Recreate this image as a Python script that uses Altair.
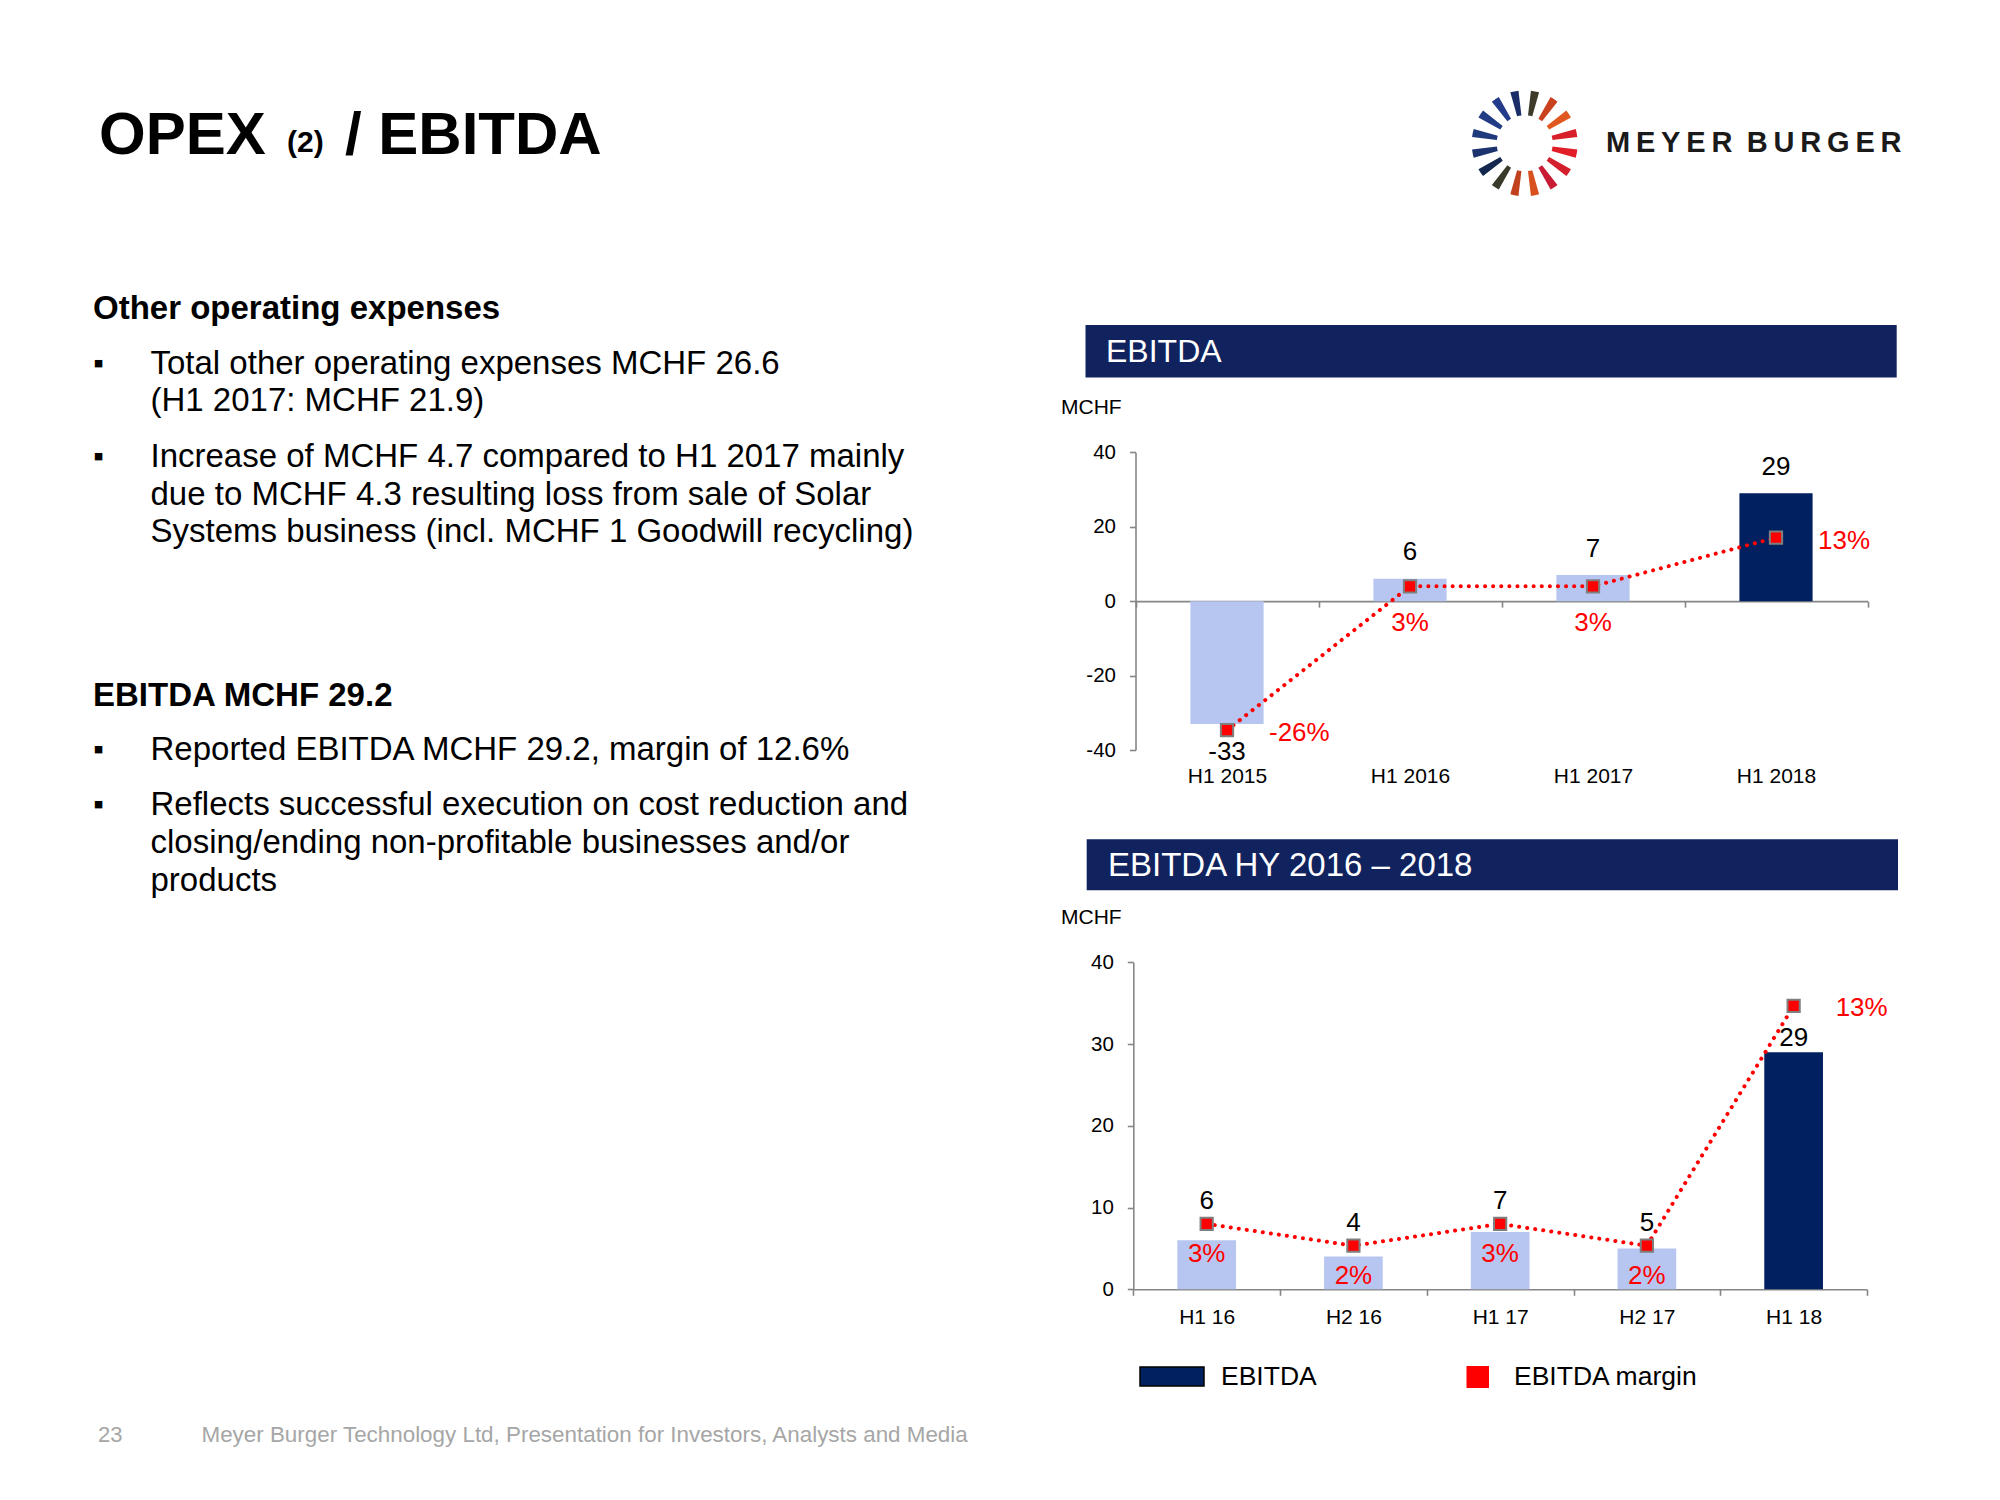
import altair as alt
import pandas as pd

FONT = "Liberation Sans"
W, H = 2000, 1500
HEADER_BLUE = "#10235f"
DARK = "#002060"
LIGHT = "#b7c6f0"
RED = "#ff0000"
AXIS_GREY = "#868686"
FOOT_GREY = "#a6a6a6"

# ---------------- data ----------------
top_periods = ["H1 2015", "H1 2016", "H1 2017", "H1 2018"]
top_ebitda = [-33, 6, 7, 29]
top_margin = [-0.26, 0.03, 0.03, 0.128]
top_kind = ["past", "past", "past", "current"]
top_ticks = [-40, -20, 0, 20, 40]

hy_periods = ["H1 16", "H2 16", "H1 17", "H2 17", "H1 18"]
hy_ebitda = [6, 4, 7, 5, 29]
hy_margin = [0.03, 0.02, 0.03, 0.02, 0.13]
hy_kind = ["past", "past", "past", "past", "current"]
hy_ticks = [0, 10, 20, 30, 40]

title_main = "OPEX"
title_note = "(2)"
title_rest = "/ EBITDA"
logo_text = "M\u2009E\u2009Y\u2009E\u2009R\u2002B\u2009U\u2009R\u2009G\u2009E\u2009R"

heading_1 = "Other operating expenses"
bullet_1a = ["Total other operating expenses MCHF 26.6", "(H1 2017: MCHF 21.9)"]
bullet_1b = ["Increase of MCHF 4.7 compared to H1 2017 mainly",
             "due to MCHF 4.3 resulting loss from sale of Solar",
             "Systems business (incl. MCHF 1 Goodwill recycling)"]
heading_2 = "EBITDA MCHF 29.2"
bullet_2a = ["Reported EBITDA MCHF 29.2, margin of 12.6%"]
bullet_2b = ["Reflects successful execution on cost reduction and",
             "closing/ending non-profitable businesses and/or",
             "products"]

panel_1_title = "EBITDA"
panel_2_title = "EBITDA HY 2016 \u2013 2018"
unit_label = "MCHF"
legend_labels = ["EBITDA", "EBITDA margin"]
footer_page = "23"
footer_text = "Meyer Burger Technology Ltd, Presentation for Investors, Analysts and Media"

logo_angles = [11.25, 33.75, 56.25, 78.75, 101.25, 123.75, 146.25, 168.75,
               191.25, 213.75, 236.25, 258.75, 281.25, 303.75, 326.25, 348.75]
logo_colors = ["#3f3b2b", "#c9411f", "#e0581f", "#d8202a", "#e11d27", "#d41f2c",
               "#c71c33", "#d9501f", "#c1401e", "#3a3a2a", "#14284f", "#1c336f",
               "#1f3a7d", "#213b85", "#233b8a", "#1a2d66"]


# ---------------- helpers ----------------
def txt(s, x, y, size, weight="normal", color="#000000", align="left", baseline="middle"):
    return alt.Chart(pd.DataFrame({"t": [s]})).mark_text(
        font=FONT, fontSize=size, fontWeight=weight, color=color,
        align=align, baseline=baseline
    ).encode(text="t:N", x=alt.value(x), y=alt.value(y))


def box(x, x2, y, y2, fill, stroke=None, sw=0):
    kw = dict(fill=fill, opacity=1)
    if stroke:
        kw.update(stroke=stroke, strokeWidth=sw)
    return alt.Chart(pd.DataFrame({"k": [0]})).mark_rect(**kw).encode(
        x=alt.value(x), x2=alt.value(x2), y=alt.value(y), y2=alt.value(y2))


def panel(periods, ebitda, margin, kind, ydom, ticks, mdom, x0, x1, ybot, ytop,
          xlab_pad, bar_labels, margin_labels):
    df = pd.DataFrame({"period": periods, "ebitda": ebitda, "margin": margin, "kind": kind})
    zero_y = ybot + (0 - ydom[0]) / (ydom[1] - ydom[0]) * (ytop - ybot)
    x_enc = alt.X(
        "period:N", sort=periods, title=None,
        scale=alt.Scale(range=[x0, x1], paddingInner=0, paddingOuter=0),
        axis=alt.Axis(orient="bottom", offset=zero_y - H, tickBand="extent", tickSize=6,
                      labelPadding=xlab_pad, labelAngle=0, labelFont=FONT, labelFontSize=21,
                      labelColor="#000000", domainColor=AXIS_GREY, tickColor=AXIS_GREY,
                      domainWidth=1.6, tickWidth=1.6, grid=False))
    y_enc = alt.Y(
        "ebitda:Q", title=None,
        scale=alt.Scale(domain=ydom, range=[ybot, ytop], nice=False, zero=False),
        axis=alt.Axis(orient="left", offset=-x0, values=ticks, tickSize=6, labelPadding=14,
                      labelExpr="toString(datum.value)", labelFont=FONT, labelFontSize=20.5,
                      labelColor="#000000", domainColor=AXIS_GREY, tickColor=AXIS_GREY,
                      domainWidth=1.6, tickWidth=1.6, grid=False))
    m_enc = alt.Y("margin:Q", scale=alt.Scale(domain=mdom, range=[ybot, ytop], nice=False, zero=False),
                  axis=None)
    base = alt.Chart(df)
    bars = base.mark_bar(width=alt.RelativeBandSize(0.4)).encode(
        x=x_enc, y=y_enc,
        color=alt.Color("kind:N", scale=alt.Scale(domain=["past", "current"], range=[LIGHT, DARK]),
                        legend=None))
    blayers = [bars]
    line = base.mark_line(color=RED, strokeWidth=4, strokeDash=[0.1, 8], strokeCap="round").encode(
        x=x_enc, y=m_enc)
    pts = base.mark_square(size=150, fill=RED, stroke="#7f7f7f", strokeWidth=2, opacity=1).encode(
        x=x_enc, y=m_enc)
    mlayers = [line, pts]
    # value labels: anchored either on the bar (y scale) or on the margin marker (margin scale)
    for flt, dy, anchor in bar_labels:
        lab = (base.transform_filter(flt).transform_calculate(lbl="toString(datum.ebitda)")
               .mark_text(font=FONT, fontSize=26, color="#000000", dy=dy, baseline="middle"))
        if anchor == "bar":
            blayers.append(lab.encode(x=x_enc, y=y_enc, text="lbl:N"))
        else:
            mlayers.append(lab.encode(x=x_enc, y=m_enc, text="lbl:N"))
    for flt, dx, dy, align in margin_labels:
        mlayers.append(
            base.transform_filter(flt)
            .transform_calculate(mlbl="toString(round(datum.margin * 100)) + '%'")
            .mark_text(font=FONT, fontSize=26, color=RED, dx=dx, dy=dy, align=align, baseline="middle")
            .encode(x=x_enc, y=m_enc, text="mlbl:N"))
    return alt.layer(alt.layer(*blayers), alt.layer(*mlayers)).resolve_scale(y="independent")


top_panel = panel(
    top_periods, top_ebitda, top_margin, top_kind, [-40, 40], top_ticks, [-0.3, 0.3],
    1135.5, 1867.5, 750, 452.3, 158,
    bar_labels=[("datum.ebitda >= 0", -26.5, "bar"), ("datum.ebitda < 0", 28, "bar")],
    margin_labels=[("datum.period == 'H1 2015' || datum.period == 'H1 2018'", 42, 3, "left"),
                   ("datum.period == 'H1 2016' || datum.period == 'H1 2017'", 0, 36.5, "center")])

hy_panel = panel(
    hy_periods, hy_ebitda, hy_margin, hy_kind, [0, 40], hy_ticks, [0, 0.15],
    1133.3, 1867, 1289.3, 962.3, 11,
    bar_labels=[("datum.period != 'H1 18'", -23, "margin"), ("datum.period == 'H1 18'", -14.5, "bar")],
    margin_labels=[("datum.period == 'H1 18'", 42, 2, "left"),
                   ("datum.period != 'H1 18'", 0, 30.5, "center")])

# ---------------- logo ----------------
logo_df = pd.DataFrame({"deg": logo_angles, "c": logo_colors})
logo = alt.Chart(logo_df).transform_calculate(
    a0="(datum.deg - 4.5) * PI / 180", a1="(datum.deg + 4.5) * PI / 180"
).mark_arc(radius=53, radius2=28).encode(
    theta=alt.Theta("a0:Q", scale=None, stack=False),
    theta2=alt.Theta2("a1:Q"),
    color=alt.Color("c:N", scale=None),
    x=alt.value(1524.7), y=alt.value(143.3))

# ---------------- decorations / text ----------------
decor = [
    txt(title_main, 99, 154, 60, "bold", baseline="alphabetic"),
    txt(title_note, 287, 152, 30, "bold", baseline="alphabetic"),
    txt(title_rest, 345, 154, 60, "bold", baseline="alphabetic"),
    logo,
    txt(logo_text, 1606, 143, 29, "bold", color="#1a1a1a"),
    # left column
    txt(heading_1, 93, 309, 33, "bold"),
    txt("\u25aa", 98.5, 363.5, 30, align="center"),
    txt(bullet_1a[0], 150.5, 363.5, 33),
    txt(bullet_1a[1], 150.5, 400.5, 33),
    txt("\u25aa", 98.5, 456.6, 30, align="center"),
    txt(bullet_1b[0], 150.5, 456.6, 33),
    txt(bullet_1b[1], 150.5, 494.9, 33),
    txt(bullet_1b[2], 150.5, 532, 33),
    txt(heading_2, 93, 696.4, 33, "bold"),
    txt("\u25aa", 98.5, 750, 30, align="center"),
    txt(bullet_2a[0], 150.5, 750, 33),
    txt("\u25aa", 98.5, 804.8, 30, align="center"),
    txt(bullet_2b[0], 150.5, 804.8, 33),
    txt(bullet_2b[1], 150.5, 843, 33),
    txt(bullet_2b[2], 150.5, 881.4, 33),
    # panel headers
    box(1085.5, 1896.7, 325, 377.6, HEADER_BLUE),
    txt(panel_1_title, 1106, 352, 32, color="#ffffff"),
    txt(unit_label, 1061, 408, 21),
    box(1086.7, 1898, 839.3, 890.3, HEADER_BLUE),
    txt(panel_2_title, 1108, 866, 33, color="#ffffff"),
    txt(unit_label, 1061, 918, 21),
    # legend
    box(1140, 1204, 1367, 1386, DARK, stroke="#000000", sw=1.5),
    txt(legend_labels[0], 1221, 1377, 26.5),
    box(1466.5, 1489, 1366, 1388, RED),
    txt(legend_labels[1], 1514, 1377, 26.5),
    # footer
    txt(footer_page, 98, 1435, 22, color=FOOT_GREY),
    txt(footer_text, 201.5, 1435, 22.4, color=FOOT_GREY),
]

chart = alt.layer(*decor, top_panel, hy_panel).resolve_scale(
    x="independent", y="independent"
).properties(
    width=W, height=H, autosize=alt.AutoSizeParams(type="none"), padding=0, background="white"
).configure_view(strokeWidth=0)

chart.save("out.html", embed_options={"renderer": "svg", "actions": False})
